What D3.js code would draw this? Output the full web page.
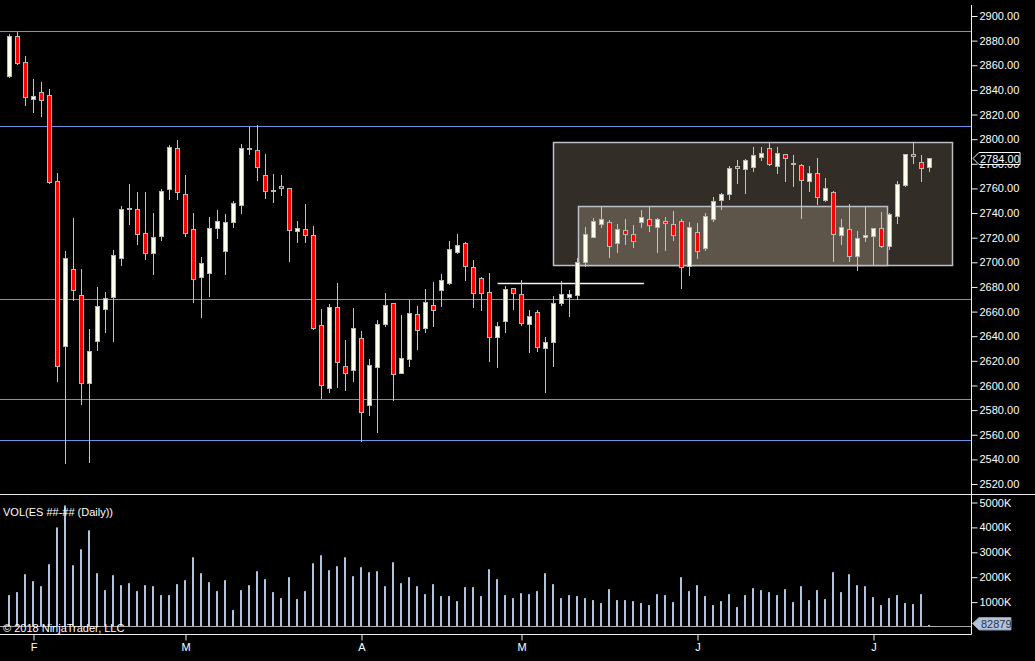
<!DOCTYPE html>
<html>
<head>
<meta charset="utf-8">
<script src="https://cdn.jsdelivr.net/npm/d3@7"></script>
<style>
  html, body { margin: 0; padding: 0; background: #000; }
  svg { display: block; }
  text { font-family: "Liberation Sans", Arial, sans-serif; font-size: 11px; fill: #fff; }
</style>
</head>
<body>
<div id="vis"></div>
<script>
// daily ES bars, Jan 29 -> Jul 12 2018
const opens = [
  2851.2, 2883.7, 2862.3, 2831.9, 2837.9, 2835.5, 2765.5, 2631.7, 2693.9, 2672.7,
  2601.6, 2635.8, 2661.0, 2670.8, 2703.3, 2743.3, 2742.7, 2723.2, 2706.6, 2721.2,
  2759.5, 2792.3, 2754.9, 2726.4, 2687.1, 2691.1, 2726.9, 2708.5, 2731.8, 2746.0,
  2792.7, 2790.7, 2770.4, 2758.7, 2761.4, 2759.8, 2724.8, 2726.4, 2721.6, 2649.1,
  2597.5, 2663.0, 2615.8, 2612.2, 2637.8, 2584.0, 2614.9, 2648.8, 2666.2, 2610.1,
  2620.7, 2657.3, 2645.9, 2664.6, 2676.8, 2682.5, 2707.7, 2715.0, 2695.5, 2686.6,
  2675.2, 2638.6, 2651.6, 2678.4, 2673.5, 2649.1, 2658.9, 2629.6, 2634.5, 2666.2,
  2671.1, 2672.7, 2699.6, 2719.9, 2730.5, 2732.1, 2715.0, 2725.6, 2722.4, 2732.1,
  2734.6, 2728.1, 2733.0, 2730.5, 2733.0, 2696.3, 2724.0, 2711.0, 2734.6, 2750.0,
  2754.9, 2777.7, 2775.3, 2776.9, 2785.0, 2792.3, 2777.7, 2787.5, 2780.1, 2778.5,
  2765.5, 2772.0, 2750.0, 2756.5, 2721.6, 2726.4, 2704.5, 2719.9, 2720.7, 2727.3,
  2712.6, 2737.0, 2762.2, 2787.5, 2781.0, 2776.9
];
const highs = [
  2885.4, 2887.2, 2867.5, 2848.7, 2846.3, 2840.6, 2772.2, 2708.8, 2735.6, 2694.9,
  2646.1, 2680.3, 2676.2, 2710.4, 2745.4, 2763.3, 2756.8, 2756.8, 2739.7, 2759.2,
  2795.0, 2799.1, 2770.6, 2739.7, 2704.7, 2736.4, 2742.7, 2738.9, 2749.5, 2795.8,
  2809.9, 2811.3, 2787.7, 2771.4, 2770.6, 2760.3, 2733.2, 2747.6, 2729.7, 2662.1,
  2666.2, 2683.6, 2636.9, 2663.0, 2644.2, 2621.5, 2653.5, 2675.2, 2667.3, 2657.3,
  2669.5, 2664.6, 2678.4, 2684.4, 2690.6, 2717.5, 2722.6, 2716.7, 2702.0, 2688.2,
  2691.4, 2651.6, 2680.9, 2679.2, 2685.8, 2661.3, 2661.3, 2639.4, 2672.7, 2684.9,
  2677.6, 2703.6, 2728.9, 2736.2, 2744.6, 2734.6, 2731.3, 2735.4, 2730.5, 2742.7,
  2745.2, 2736.2, 2737.0, 2741.3, 2735.4, 2733.0, 2732.1, 2740.3, 2753.3, 2756.5,
  2778.5, 2783.4, 2784.2, 2794.0, 2794.0, 2797.2, 2794.0, 2788.3, 2786.9, 2780.1,
  2778.5, 2785.0, 2768.7, 2758.2, 2735.4, 2747.6, 2725.6, 2745.2, 2728.1, 2741.1,
  2740.3, 2766.3, 2788.3, 2798.0, 2787.5, 2785.0
];
const lows = [
  2849.8, 2860.1, 2826.8, 2821.3, 2818.1, 2763.5, 2603.2, 2536.5, 2668.3, 2584.3,
  2537.3, 2627.7, 2642.3, 2635.0, 2696.8, 2729.9, 2713.7, 2701.7, 2690.1, 2717.7,
  2750.3, 2750.3, 2720.2, 2666.7, 2654.5, 2671.6, 2718.8, 2689.5, 2727.7, 2739.1,
  2787.1, 2766.0, 2751.3, 2748.1, 2753.8, 2700.1, 2715.5, 2715.5, 2644.8, 2588.9,
  2593.5, 2598.1, 2595.4, 2603.2, 2554.4, 2575.6, 2561.7, 2647.2, 2587.0, 2609.0,
  2614.6, 2628.5, 2642.3, 2647.2, 2663.5, 2681.7, 2706.9, 2684.6, 2662.7, 2660.2,
  2618.7, 2613.8, 2642.3, 2661.3, 2648.3, 2626.0, 2626.8, 2593.5, 2614.6, 2664.6,
  2655.3, 2669.5, 2696.0, 2719.5, 2728.1, 2703.7, 2707.4, 2714.2, 2711.8, 2728.1,
  2724.5, 2707.7, 2709.0, 2717.5, 2678.1, 2688.7, 2702.5, 2709.4, 2733.0, 2742.7,
  2750.8, 2763.9, 2755.7, 2773.6, 2782.6, 2777.9, 2772.0, 2765.2, 2761.1, 2735.4,
  2757.4, 2746.8, 2749.2, 2700.4, 2714.2, 2700.4, 2693.1, 2716.7, 2698.2, 2711.8,
  2710.2, 2731.3, 2761.4, 2780.1, 2765.5, 2773.6
];
const closes = [
  2883.7, 2862.0, 2833.5, 2834.7, 2831.1, 2765.2, 2615.5, 2702.8, 2676.8, 2601.0,
  2627.4, 2664.0, 2670.3, 2705.3, 2742.7, 2743.3, 2722.4, 2706.6, 2719.9, 2757.4,
  2793.2, 2756.2, 2722.9, 2686.2, 2698.8, 2727.3, 2732.9, 2732.1, 2747.6, 2792.3,
  2792.7, 2776.9, 2757.4, 2758.7, 2759.8, 2726.1, 2727.3, 2721.6, 2646.4, 2600.4,
  2663.0, 2618.7, 2610.1, 2645.9, 2577.5, 2616.6, 2649.9, 2664.6, 2608.4, 2622.3,
  2658.1, 2644.2, 2667.0, 2660.5, 2684.9, 2710.2, 2713.4, 2696.3, 2674.4, 2674.4,
  2638.6, 2647.5, 2677.6, 2674.4, 2650.0, 2655.7, 2630.4, 2634.5, 2666.2, 2673.5,
  2673.5, 2699.6, 2722.4, 2732.9, 2734.6, 2712.6, 2726.4, 2722.4, 2716.7, 2736.2,
  2729.7, 2734.6, 2731.3, 2721.6, 2695.5, 2728.1, 2708.5, 2737.0, 2749.2, 2754.9,
  2776.1, 2776.1, 2782.6, 2786.6, 2788.3, 2779.3, 2788.3, 2784.2, 2780.1, 2766.3,
  2772.0, 2752.5, 2759.8, 2722.4, 2728.1, 2704.5, 2719.1, 2721.6, 2727.3, 2712.6,
  2738.6, 2763.1, 2787.5, 2785.8, 2776.1, 2784.0
];
// volume in thousands of contracts
const volumes = [
  1280, 1400, 2120, 1840, 1640, 2520, 4000, 4880, 2480, 3120,
  3880, 2160, 1480, 2080, 1680, 1760, 1440, 1680, 1640, 1280,
  1280, 1720, 1880, 2800, 2160, 1800, 1440, 1880, 680, 1480,
  1680, 2240, 1920, 1400, 1160, 2000, 1120, 1440, 2560, 2880,
  2280, 2440, 2800, 2040, 2400, 2200, 2240, 1640, 2600, 1760,
  2000, 1640, 1320, 1720, 1240, 1240, 1040, 1600, 1600, 1240,
  2320, 1920, 1280, 1160, 1360, 1320, 1440, 2160, 1720, 1160,
  1280, 1240, 1160, 1080, 960, 1520, 1080, 1080, 1040, 960,
  880, 1320, 1280, 1000, 2000, 1440, 1680, 1240, 880, 1040,
  1320, 800, 1280, 1560, 1480, 1400, 1280, 1520, 1000, 1640,
  1080, 1480, 1120, 2200, 1400, 2120, 1680, 1640, 1200, 880,
  1160, 1280, 960, 920, 1320, 82.879
];
const lastVolume = 82879;

// first bar of each month and its label
const monthIdx = [3, 22, 44, 64, 86, 108];
const monthLabels = ['F', 'M', 'A', 'M', 'J', 'J'];

const priceTicks = d3.range(2520, 2901, 20);
const volTicks = [1000, 2000, 3000, 4000, 5000];

// drawn objects: horizontal levels, a ray and two zones (bar index / price)
const levels = [2887.5, 2810.2, 2669.5, 2588.9, 2555.6];
const rayLine = [61, 79.3, 2682.5];
const zoneFrom = [68, 71.1];
const zoneTo = [117.9, 109.7];
const zoneTop = [2797.2, 2745.2];
const zoneBottom = [2697.1, 2697.6];

const W = 1035, H = 661;
const axisX = 971;       // right price axis
const sepY = 494;        // price / volume separator
const baseY = 634;       // time axis line

const bars = opens.map((o, i) => ({i: i, o: o, h: highs[i], l: lows[i], c: closes[i], v: volumes[i]}));

const svg = d3.select('#vis')
  .append('svg')
  .attr('width', W)
  .attr('height', H)
  .style('background', '#000');

const x = d3.scaleLinear().domain([0, 115]).range([9.5, 929.5]);
const y = d3.scaleLinear().domain([2520, 2900]).range([484, 16]);
const yv = d3.scaleLinear().domain([0, 5000]).range([627, 502.5]);

const snap = v => Math.round(v - 0.5) + 0.5;

svg.append('clipPath').attr('id', 'priceClip')
  .append('rect').attr('x', 0).attr('y', 0).attr('width', axisX).attr('height', sepY);

const price = svg.append('g').attr('clip-path', 'url(#priceClip)');

// zones
const zoneFill = ['#332d28', '#5d544a'];
zoneFrom.forEach((f, k) => {
  price.append('rect')
    .attr('x', snap(x(f)))
    .attr('y', snap(y(zoneTop[k])))
    .attr('width', Math.round(x(zoneTo[k]) - x(f)))
    .attr('height', Math.round(y(zoneBottom[k]) - y(zoneTop[k])))
    .attr('fill', zoneFill[k])
    .attr('stroke', '#bcc0c6')
    .attr('stroke-width', 1.5);
});

// levels
price.selectAll('.level')
  .data(levels)
  .join('line')
  .attr('class', 'level')
  .attr('x1', 0).attr('x2', axisX)
  .attr('y1', d => snap(y(d))).attr('y2', d => snap(y(d)))
  .attr('stroke', '#6b93e6')
  .attr('stroke-width', 1);

price.append('line')
  .attr('x1', x(rayLine[0])).attr('x2', x(rayLine[1]))
  .attr('y1', snap(y(rayLine[2]))).attr('y2', snap(y(rayLine[2])))
  .attr('stroke', '#f4f4f4')
  .attr('stroke-width', 1.5);

// candles
const candle = price.selectAll('.candle')
  .data(bars)
  .join('g')
  .attr('class', 'candle');

candle.append('line')
  .attr('x1', d => x(d.i)).attr('x2', d => x(d.i))
  .attr('y1', d => Math.round(y(d.h))).attr('y2', d => Math.round(y(d.l)))
  .attr('stroke', '#c4c4c4')
  .attr('stroke-width', 1);

candle.append('rect')
  .attr('x', d => x(d.i) - 2)
  .attr('y', d => snap(y(Math.max(d.o, d.c))))
  .attr('width', 4)
  .attr('height', d => Math.max(1, Math.round(Math.abs(y(d.o) - y(d.c)))))
  .attr('fill', d => d.c >= d.o ? '#fffff0' : '#ff0000')
  .attr('stroke', '#b8b8b8')
  .attr('stroke-width', 1);

// volume
svg.selectAll('.vol')
  .data(bars)
  .join('rect')
  .attr('class', 'vol')
  .attr('x', d => x(d.i) - 1.5)
  .attr('y', d => yv(d.v))
  .attr('width', 2)
  .attr('height', d => Math.max(0, 626 - yv(d.v)))
  .attr('fill', '#b0c4de');

svg.append('line')
  .attr('x1', 0).attr('x2', axisX)
  .attr('y1', 626.5).attr('y2', 626.5)
  .attr('stroke', '#a8a8a8');

// frame
svg.append('line')
  .attr('x1', 0).attr('x2', W)
  .attr('y1', sepY + 0.5).attr('y2', sepY + 0.5)
  .attr('stroke', '#e8e8e8');
svg.append('line')
  .attr('x1', 0).attr('x2', axisX + 0.5)
  .attr('y1', baseY + 0.5).attr('y2', baseY + 0.5)
  .attr('stroke', '#f0f0f0');
svg.append('line')
  .attr('x1', axisX + 0.5).attr('x2', axisX + 0.5)
  .attr('y1', 5).attr('y2', baseY + 0.5)
  .attr('stroke', '#f0f0f0');

// right axes
const yAxis = d3.axisRight(y)
  .tickValues(priceTicks)
  .tickFormat(d3.format('.2f'))
  .tickSize(6)
  .tickPadding(2);
const gy = svg.append('g')
  .attr('transform', `translate(${axisX + 0.5},0)`)
  .call(yAxis);

const vAxis = d3.axisRight(yv)
  .tickValues(volTicks)
  .tickFormat(d => d + 'K')
  .tickSize(6)
  .tickPadding(2);
const gv = svg.append('g')
  .attr('transform', `translate(${axisX + 0.5},0)`)
  .call(vAxis);

const xAxis = d3.axisBottom(x)
  .tickValues(monthIdx)
  .tickFormat((d, k) => monthLabels[k])
  .tickSize(6)
  .tickPadding(3);
const gx = svg.append('g')
  .attr('transform', `translate(0,${baseY + 0.5})`)
  .call(xAxis);

[gy, gv, gx].forEach(g => {
  g.select('.domain').remove();
  g.selectAll('line').attr('stroke', '#f0f0f0');
  g.selectAll('text')
    .attr('fill', '#fff')
    .style('font-family', '"Liberation Sans", Arial, sans-serif')
    .style('font-size', '11px');
});

// last price marker
const lastY = snap(y(closes[closes.length - 1]));
svg.append('path')
  .attr('d', `M${axisX + 2},${lastY} L${axisX + 8},${lastY - 6} H1020 V${lastY + 6} H${axisX + 8} Z`)
  .attr('fill', '#000')
  .attr('stroke', '#fff');
svg.append('text')
  .attr('x', axisX + 9)
  .attr('y', lastY + 4)
  .text(d3.format('.2f')(closes[closes.length - 1]));

// last volume marker
const lvY = 623.5;
svg.append('path')
  .attr('d', `M${axisX + 1.5},${lvY} L${axisX + 8},${lvY - 6} H1011 V${lvY + 6.5} H${axisX + 8} Z`)
  .attr('fill', '#b0c4de')
  .attr('stroke', '#8a9bb0');
svg.append('text')
  .attr('x', axisX + 10)
  .attr('y', lvY + 4)
  .style('fill', '#333')
  .text(lastVolume);

// captions
svg.append('text')
  .attr('x', 3)
  .attr('y', 516)
  .text('VOL(ES ##-## (Daily))');
svg.append('text')
  .attr('x', 3)
  .attr('y', 632)
  .text('\u00a9 2018 NinjaTrader, LLC');
</script>
</body>
</html>
